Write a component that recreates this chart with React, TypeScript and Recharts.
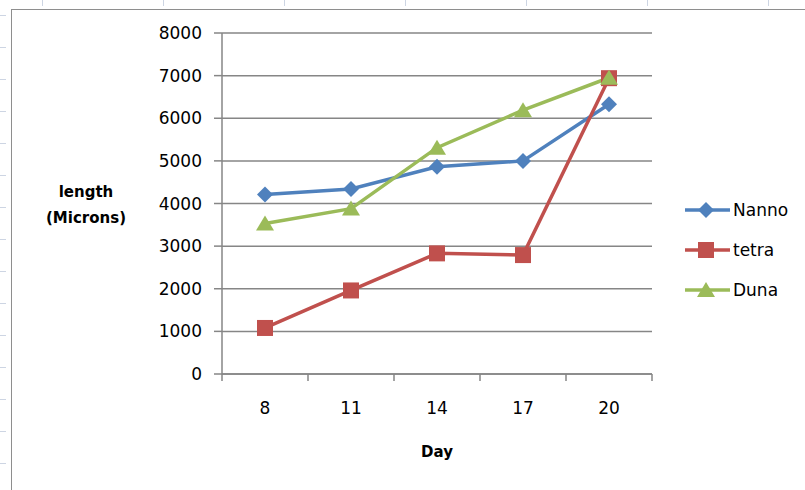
import React from "react";
import {
  LineChart,
  Line,
  XAxis,
  YAxis,
  CartesianGrid,
  Label,
} from "recharts";

const days = [8, 11, 14, 17, 20];
const nanno = [4210, 4340, 4860, 5000, 6330];
const tetra = [1080, 1960, 2830, 2790, 6940];
const duna = [3530, 3880, 5310, 6190, 6950];
const yTicks = [0, 1000, 2000, 3000, 4000, 5000, 6000, 7000, 8000];
// category edges, where Excel puts its tick marks
const dayEdges = [6.5, 9.5, 12.5, 15.5, 18.5, 21.5];

const seriesNames = ["Nanno", "tetra", "Duna"];
const seriesColors = ["#4F81BD", "#C0504D", "#9BBB59"];
const seriesShapes = ["diamond", "square", "triangle"];

const data = days.map((d, i) => ({
  day: d,
  Nanno: nanno[i],
  tetra: tetra[i],
  Duna: duna[i],
}));

const axisColor = "#868686";
const font = "'DejaVu Sans', sans-serif";

const MarkerShape = ({ cx, cy, shape, color }: any) => {
  if (cx == null || cy == null) return null;
  if (shape === "diamond")
    return (
      <polygon
        points={`${cx},${cy - 8} ${cx + 8},${cy} ${cx},${cy + 8} ${cx - 8},${cy}`}
        fill={color}
      />
    );
  if (shape === "square")
    return <rect x={cx - 8} y={cy - 8} width={16} height={16} fill={color} />;
  return (
    <polygon
      points={`${cx},${cy - 8} ${cx + 9},${cy + 7} ${cx - 9},${cy + 7}`}
      fill={color}
    />
  );
};

const DayTick = (props: any) => {
  const { x, y, payload } = props;
  if (dayEdges.includes(payload.value)) {
    return <line x1={x} x2={x} y1={y} y2={y + 7} stroke={axisColor} strokeWidth={1.5} />;
  }
  return (
    <text x={x} y={y + 34} dy="0.355em" textAnchor="middle" fontSize={17} fontFamily={font} fill="#000">
      {payload.value}
    </text>
  );
};

const App: React.FC = () => {
  return (
    <div
      style={{
        position: "absolute",
        left: 0,
        top: 0,
        width: 805,
        height: 490,
        overflow: "hidden",
        background: "#fff",
      }}
    >
      {/* spreadsheet remnants at the edges */}
      {Array.from({ length: 15 }).map((_, i) => (
        <div
          key={"l" + i}
          style={{ position: "absolute", left: 0, top: 15 + i * 32, width: 6, height: 1, background: "#cdd5e3" }}
        />
      ))}
      {Array.from({ length: 7 }).map((_, i) => (
        <div
          key={"t" + i}
          style={{ position: "absolute", top: 0, left: 42 + i * 121, width: 1, height: 6, background: "#cdd5e3" }}
        />
      ))}
      <div
        style={{
          position: "absolute",
          left: 11,
          top: 9,
          width: 820,
          height: 500,
          border: "1.5px solid #8e8e8e",
        }}
      />
      <div style={{ position: "absolute", left: 0, top: 0 }}>
        <LineChart
          width={805}
          height={490}
          data={data}
          margin={{ top: 33, right: 153, left: 22, bottom: 36 }}
        >
          <CartesianGrid vertical={false} stroke={axisColor} strokeWidth={1.5} />
          <XAxis
            dataKey="day"
            type="number"
            domain={[6.5, 21.5]}
            ticks={[...dayEdges, ...days].sort((a, b) => a - b)}
            interval={0}
            tickSize={0}
            tickMargin={0}
            tickLine={false}
            tick={<DayTick />}
            height={80}
            axisLine={{ stroke: axisColor, strokeWidth: 1.5 }}
          >
            <Label
              content={({ viewBox }: any) => (
                <text
                  x={viewBox.x + viewBox.width / 2}
                  y={viewBox.y + 78}
                  dy="0.355em"
                  textAnchor="middle"
                  fontSize={15}
                  fontWeight="bold"
                  fontFamily={font}
                  fill="#000"
                >
                  Day
                </text>
              )}
            />
          </XAxis>
          <YAxis
            type="number"
            domain={[0, 8000]}
            ticks={yTicks}
            width={200}
            tickSize={8}
            tickMargin={12}
            tick={{ fontSize: 17, fontFamily: font, fill: "#000" }}
            tickLine={{ stroke: axisColor, strokeWidth: 1.5 }}
            axisLine={{ stroke: axisColor, strokeWidth: 1.5 }}
          >
            <Label
              content={({ viewBox }: any) => {
                const cx = viewBox.x + 64;
                const cy = viewBox.y + viewBox.height / 2;
                return (
                  <text
                    textAnchor="middle"
                    fontSize={15}
                    fontWeight="bold"
                    fontFamily={font}
                    fill="#000"
                  >
                    <tspan x={cx} y={cy - 12} dy="0.355em">
                      length
                    </tspan>
                    <tspan x={cx} y={cy + 14} dy="0.355em">
                      (Microns)
                    </tspan>
                  </text>
                );
              }}
            />
          </YAxis>
          {seriesNames.map((name, i) => (
            <Line
              key={name}
              type="linear"
              dataKey={name}
              stroke={seriesColors[i]}
              strokeWidth={3.5}
              isAnimationActive={false}
              dot={(p: any) => (
                <MarkerShape
                  key={name + p.index}
                  cx={p.cx}
                  cy={p.cy}
                  shape={seriesShapes[i]}
                  color={seriesColors[i]}
                />
              )}
              activeDot={false}
            />
          ))}
        </LineChart>
      </div>
      {/* legend */}
      <div style={{ position: "absolute", left: 684, top: 190 }}>
        {seriesNames.map((name, i) => (
          <div key={name} style={{ display: "flex", alignItems: "center", height: 40 }}>
            <svg width={48} height={24}>
              <line x1={1} x2={46} y1={12} y2={12} stroke={seriesColors[i]} strokeWidth={3.5} />
              <MarkerShape cx={22} cy={12} shape={seriesShapes[i]} color={seriesColors[i]} />
            </svg>
            <span style={{ fontFamily: font, fontSize: 17, color: "#000", marginLeft: 1 }}>{name}</span>
          </div>
        ))}
      </div>
    </div>
  );
};

export default App;
